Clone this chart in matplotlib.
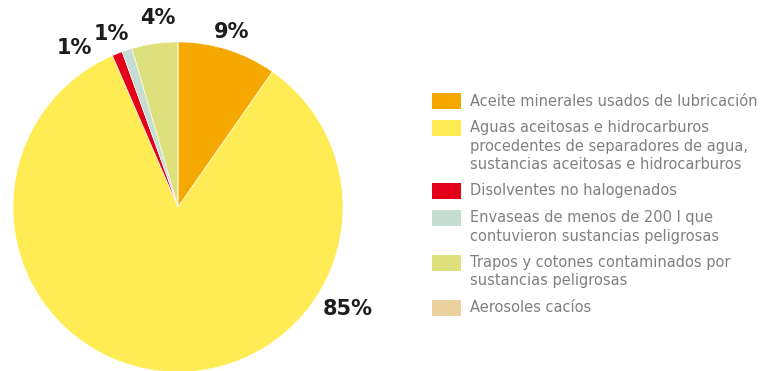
import numpy as np
import matplotlib
matplotlib.use("Agg")
import matplotlib.pyplot as plt
from matplotlib.patches import Rectangle

# data (share of total waste, %)
categories = [
    "Aceite minerales usados de lubricación",
    "Aguas aceitosas e hidrocarburos\nprocedentes de separadores de agua,\nsustancias aceitosas e hidrocarburos",
    "Disolventes no halogenados",
    "Envaseas de menos de 200 l que\ncontuvieron sustancias peligrosas",
    "Trapos y cotones contaminados por\nsustancias peligrosas",
    "Aerosoles cacíos",
]
shares = [9.7, 83.8, 1.0, 1.0, 4.5, 0.0]
pct_labels = ["9%", "85%", "1%", "1%", "4%", ""]
colors = ["#F5A800", "#FFEC55", "#E2001A", "#C6DED2", "#DDE07C", "#EBD1A0"]

# where each % label sits: (angle in degrees, distance in radii)
label_place = [(73, 1.11), (-31, 1.20), (123, 1.15), (111, 1.12), (96, 1.15), None]

W, H = 761, 371
fig = plt.figure(figsize=(W / 100, H / 100), dpi=100)

# pie axes, centre ~ (178, 207) px, radius ~165 px
cx, cy, r = 178, 207, 165
ax = fig.add_axes([(cx - r) / W, (H - cy - r) / H, 2 * r / W, 2 * r / H])
ax.pie(shares, colors=colors, startangle=90, counterclock=False, radius=1,
       wedgeprops=dict(edgecolor="white", linewidth=0.4))
ax.set_xlim(-1, 1)
ax.set_ylim(-1, 1)
ax.set_aspect("equal")
ax.axis("off")

for txt, place in zip(pct_labels, label_place):
    if not txt or place is None:
        continue
    ang, rad = place
    a = np.deg2rad(ang)
    ax.text(rad * np.cos(a), rad * np.sin(a), txt, ha="center", va="center",
            fontsize=15, fontweight="bold", color="#1d1d1b", clip_on=False)

# legend drawn by hand in pixel coords
lg = fig.add_axes([0, 0, 1, 1])
lg.set_xlim(0, W)
lg.set_ylim(H, 0)
lg.axis("off")
y = 101
line_h = 18.5
gap = 26.5
for name, col in zip(categories, colors):
    lines = name.split("\n")
    lg.add_patch(Rectangle((432, y - 8), 29, 16, facecolor=col, edgecolor="none"))
    for i, ln in enumerate(lines):
        lg.text(470, y + i * line_h, ln, ha="left", va="center",
                fontsize=10.5, color="#808080")
    y += (len(lines) - 1) * line_h + gap

fig.savefig("out.png", dpi=100)
